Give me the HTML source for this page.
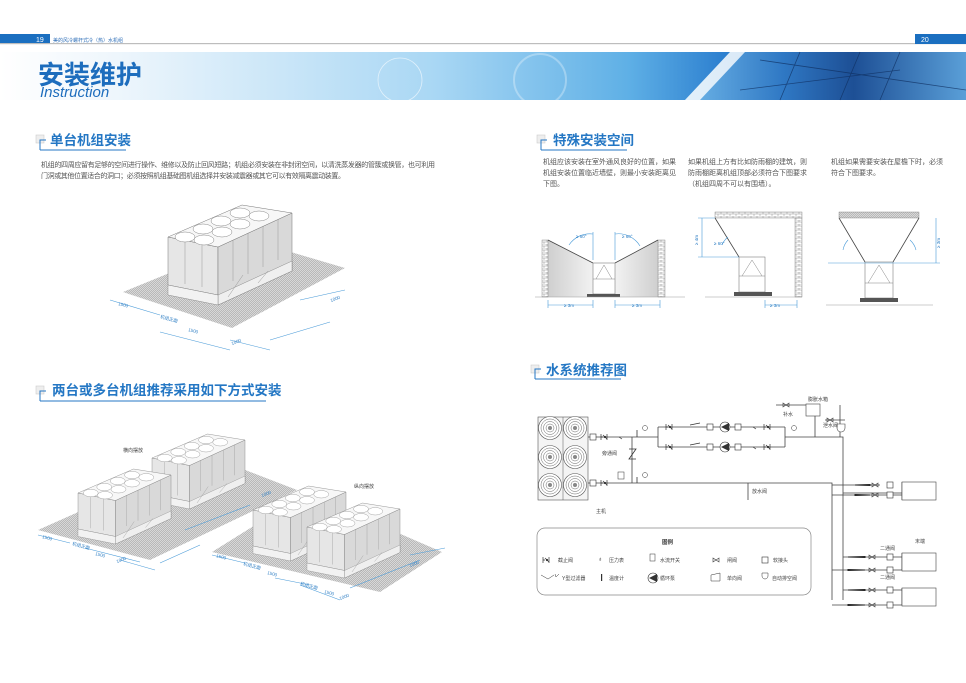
<!DOCTYPE html>
<html><head><meta charset="utf-8"><style>
html,body{margin:0;padding:0;background:#fff}
svg{display:block;font-family:"Liberation Sans","Noto Sans CJK SC",sans-serif}
.t{font-size:7px;fill:#555}
.s{font-size:5px;fill:#444}
.h{font-size:13.5px;fill:#2477c4;font-weight:bold}
.ln{stroke:#444;stroke-width:.8;fill:none}
.dm{stroke:#4a9bd8;stroke-width:.6;fill:none}
.dt{font-size:4.5px;fill:#2f7fc4}
</style></head><body>
<svg width="966" height="683" viewBox="0 0 966 683">
<defs>
<pattern id="hat" width="2" height="2" patternUnits="userSpaceOnUse"><rect width="2" height="2" fill="#dcdcdc"/><path d="M0 2L2 0" stroke="#a5a5a5" stroke-width=".6"/></pattern>
<pattern id="brk" width="6" height="4" patternUnits="userSpaceOnUse"><rect width="6" height="4" fill="#fff"/><path d="M0 0H6M0 2H6M1 0V2M4 2V4" stroke="#777" stroke-width=".4"/></pattern>
<linearGradient id="ban" x1="0" x2="1"><stop offset="0" stop-color="#ffffff"/><stop offset=".12" stop-color="#eef6fc"/><stop offset=".45" stop-color="#a9d7f4"/><stop offset=".65" stop-color="#5fb0e6"/><stop offset=".75" stop-color="#2c7fcf"/><stop offset="1" stop-color="#1f5ea8"/></linearGradient>
<linearGradient id="bld" x1="0" x2="1"><stop offset="0" stop-color="#6fb6e8"/><stop offset=".35" stop-color="#2f78c4"/><stop offset=".6" stop-color="#1d4f95"/><stop offset="1" stop-color="#5a9fd8"/></linearGradient>
<linearGradient id="pnl" x1="0" x2="1"><stop offset="0" stop-color="#cfcfcf"/><stop offset="1" stop-color="#f2f2f2"/></linearGradient>
<linearGradient id="pnr" x1="1" x2="0"><stop offset="0" stop-color="#cfcfcf"/><stop offset="1" stop-color="#f2f2f2"/></linearGradient>
<g id="unit">
 <polygon points="0,0 50,10 50,58 0,48" fill="#e6e6e6" stroke="#777" stroke-width=".5"/>
 <polygon points="50,10 124,-24 124,34 50,68" fill="#d9d9d9" stroke="#777" stroke-width=".5"/>
 <polygon points="50,58 124,24 124,34 50,68" fill="#efefef" stroke="#777" stroke-width=".4"/>
 <polygon points="0,48 50,58 50,68 0,58" fill="#f2f2f2" stroke="#777" stroke-width=".4"/>
 <path d="M65 3V44M80 -4V37M95 -11V30M110 -18V23M17 3V47M34 7V50M60 60L75 38M90 46L100 34" stroke="#999" stroke-width=".5"/>
 <polygon points="0,0 50,10 124,-24 74,-32" fill="#f7f7f7" stroke="#777" stroke-width=".5"/>
 <g fill="#fff" stroke="#888" stroke-width=".5">
  <ellipse cx="17" cy="0" rx="10" ry="5"/><ellipse cx="36" cy="3" rx="10" ry="5"/>
  <ellipse cx="35" cy="-8" rx="10" ry="5"/><ellipse cx="54" cy="-5" rx="10" ry="5"/>
  <ellipse cx="53" cy="-16" rx="10" ry="5"/><ellipse cx="72" cy="-13" rx="10" ry="5"/>
  <ellipse cx="72" cy="-24" rx="10" ry="5"/><ellipse cx="91" cy="-21" rx="10" ry="5"/>
 </g>
</g>
<g id="fan"><circle r="11.5" fill="#fff" stroke="#555" stroke-width=".6"/><circle r="9" fill="none" stroke="#666" stroke-width=".5"/><circle r="6.5" fill="none" stroke="#666" stroke-width=".5"/><circle r="4" fill="none" stroke="#666" stroke-width=".5"/><circle r="2" fill="#888"/></g>
<g id="vlv"><path d="M-4 -3V3M-4 0L-2 0M-2 -2L2 2M2 -3V3" stroke="#333" stroke-width=".7" fill="none"/><circle r="1.1" fill="#333"/></g>
<g id="gate"><path d="M-3 -2L3 2V-2L-3 2Z" fill="none" stroke="#333" stroke-width=".6"/></g>
<g id="box"><rect x="-3" y="-3" width="6" height="6" fill="#fff" stroke="#333" stroke-width=".6"/></g>
<g id="pump"><circle r="5" fill="#fff" stroke="#333" stroke-width=".6"/><path d="M-4 0L4 -4V4Z" fill="#333"/></g>
</defs>

<!-- header -->
<rect x="0" y="34" width="50" height="10" fill="#1b6fc0"/>
<text x="36" y="42" font-size="7" fill="#fff">19</text>
<text x="53" y="42" font-size="5" fill="#2f6fb8">美的风冷螺杆式冷（热）水机组</text>
<rect x="0" y="43" width="966" height="1.2" fill="#bdbdbd"/>
<rect x="915" y="34" width="51" height="10" fill="#1b6fc0"/>
<text x="921" y="42" font-size="7" fill="#fff">20</text>
<rect x="0" y="52" width="966" height="48" fill="url(#ban)"/>
<polygon points="730,52 966,52 966,100 685,100" fill="url(#bld)"/>
<polygon points="730,52 745,52 700,100 685,100" fill="#fff" opacity=".8"/>
<path d="M760 60L966 90M800 52L780 100M860 52L840 100M900 52L880 100M740 90L900 70" stroke="#0f2f60" stroke-width=".8" opacity=".7"/>
<circle cx="400" cy="80" r="22" fill="none" stroke="#fff" stroke-width=".8" opacity=".6"/>
<circle cx="540" cy="80" r="26" fill="none" stroke="#fff" stroke-width="2" opacity=".3"/>
<text x="38" y="84" font-size="26" font-weight="bold" fill="#1d6dbd">安装维护</text>
<text x="40" y="97" font-size="15" font-style="italic" fill="#1d6dbd">Instruction</text>

<!-- headings -->
<g>
<rect x="36" y="135" width="8" height="8" fill="#eee" stroke="#ccc" stroke-width=".6"/><path d="M40 150V140H46" stroke="#2477c4" fill="none"/>
<path d="M40 150H126" stroke="#2477c4"/>
<text class="h" x="50" y="145">单台机组安装</text>
<rect x="537" y="135" width="8" height="8" fill="#eee" stroke="#ccc" stroke-width=".6"/><path d="M541 150V140H547" stroke="#2477c4" fill="none"/>
<path d="M541 150H627" stroke="#2477c4"/>
<text class="h" x="553" y="145">特殊安装空间</text>
<rect x="36" y="386" width="8" height="8" fill="#eee" stroke="#ccc" stroke-width=".6"/><path d="M40 401V391H46" stroke="#2477c4" fill="none"/>
<path d="M40 401H266" stroke="#2477c4"/>
<text class="h" x="52" y="395">两台或多台机组推荐采用如下方式安装</text>
<rect x="531" y="365" width="8" height="8" fill="#eee" stroke="#ccc" stroke-width=".6"/><path d="M535 379V369H541" stroke="#2477c4" fill="none"/>
<path d="M535 379H621" stroke="#2477c4"/>
<text class="h" x="546" y="375">水系统推荐图</text>
</g>

<text class="t" x="41" y="167" textLength="394">机组的四周应留有足够的空间进行操作、维修以及防止回风短路；机组必须安装在非封闭空间，以清洗蒸发器的管簇或换管，也可利用</text>
<text class="t" x="41" y="178" textLength="304">门洞或其他位置适合的洞口；必须按照机组基础图机组选择并安装减震器或其它可以有效隔离震动装置。</text>

<text class="t" x="543" y="164">机组应该安装在室外通风良好的位置，如果</text>
<text class="t" x="543" y="175">机组安装位置临近墙壁，则最小安装距离见</text>
<text class="t" x="543" y="186">下图。</text>
<text class="t" x="688" y="164">如果机组上方有比如防雨棚的建筑，则</text>
<text class="t" x="688" y="175">防雨棚距离机组顶部必须符合下图要求</text>
<text class="t" x="688" y="186">（机组四周不可以有围墙）。</text>
<text class="t" x="831" y="164">机组如果需要安装在屋檐下时，必须</text>
<text class="t" x="831" y="175">符合下图要求。</text>

<!-- single unit -->
<polygon points="123,292 232,328 345,268 250,240" fill="url(#hat)"/>
<use href="#unit" x="168" y="237"/>
<g class="dm"><path d="M110 300L160 315M160 332L230 350M230 340L270 350M270 340L330 322M300 300L345 290"/></g>
<text class="dt" x="118" y="305" transform="rotate(15 118 305)">1500</text>
<text class="dt" x="160" y="318" transform="rotate(15 160 318)">机组正面</text>
<text class="dt" x="188" y="331" transform="rotate(15 188 331)">1500</text>
<text class="dt" x="232" y="345" transform="rotate(-20 232 345)">1000</text>
<text class="dt" x="331" y="302" transform="rotate(-20 331 302)">1000</text>

<!-- two units -->
<text class="s" x="123" y="452">横向摆放</text>
<text class="s" x="354" y="488">纵向摆放</text>
<polygon points="38,530 150,560 297,490 240,468 150,480" fill="url(#hat)"/>
<polygon points="212,552 380,592 442,552 350,512 260,522" fill="url(#hat)"/>
<use href="#unit" transform="translate(152,458) scale(.75)"/>
<use href="#unit" transform="translate(78,493) scale(.75)"/>
<use href="#unit" transform="translate(253,510) scale(.75)"/>
<use href="#unit" transform="translate(307,527) scale(.75)"/>
<g class="dm"><path d="M38 535L70 543M85 548L140 562M120 560L155 570M160 563L200 545M185 530L250 505M212 555L245 563M275 578L310 585M300 585L340 600M350 588L420 560M410 555L445 548"/></g>
<text class="dt" x="42" y="538" transform="rotate(15 42 538)">1500</text>
<text class="dt" x="72" y="545" transform="rotate(15 72 545)">机组正面</text>
<text class="dt" x="95" y="555" transform="rotate(15 95 555)">1500</text>
<text class="dt" x="117" y="563" transform="rotate(-20 117 563)">1000</text>
<text class="dt" x="262" y="497" transform="rotate(-20 262 497)">1000</text>
<text class="dt" x="216" y="557" transform="rotate(15 216 557)">1500</text>
<text class="dt" x="243" y="565" transform="rotate(15 243 565)">机组正面</text>
<text class="dt" x="267" y="574" transform="rotate(15 267 574)">1500</text>
<text class="dt" x="300" y="585" transform="rotate(15 300 585)">机组正面</text>
<text class="dt" x="324" y="593" transform="rotate(15 324 593)">1500</text>
<text class="dt" x="340" y="600" transform="rotate(-20 340 600)">1000</text>
<text class="dt" x="410" y="567" transform="rotate(-20 410 567)">1000</text>

<!-- special diagram 1 -->
<polygon points="548,240 593,263 593,297 548,297" fill="url(#pnl)"/>
<polygon points="658,240 615,263 615,297 658,297" fill="url(#pnr)"/>
<rect x="542" y="240" width="6" height="57" fill="url(#brk)" stroke="#777" stroke-width=".4"/>
<rect x="658" y="240" width="7" height="57" fill="url(#brk)" stroke="#777" stroke-width=".4"/>
<path d="M548 240L593 263M658 240L615 263" class="ln" stroke-width=".5"/>
<rect x="593" y="263" width="22" height="31" fill="#fff" stroke="#666" stroke-width=".5"/>
<path d="M593 279H615M596 279L604 265L612 279" stroke="#666" stroke-width=".4" fill="none"/>
<rect x="587" y="294" width="33" height="3" fill="#555"/>
<path d="M535 297H685" stroke="#999" stroke-width=".6"/>
<g class="dm"><path d="M548 300V308M593 300V308M548 305H593M615 300V308M660 300V308M615 305H660M593 260V232M615 260V232M569 245A25 25 0 0 1 593 234M615 234A25 25 0 0 1 640 246"/></g>
<text class="dt" x="564" y="307">≥ 3m</text><text class="dt" x="632" y="307">≥ 3m</text>
<text class="dt" x="576" y="238">≥ 60°</text><text class="dt" x="622" y="238">≥ 60°</text>
<!-- special diagram 2 -->
<rect x="715" y="212" width="87" height="6" fill="url(#brk)" stroke="#777" stroke-width=".4"/>
<rect x="795" y="218" width="7" height="79" fill="url(#brk)" stroke="#777" stroke-width=".4"/>
<path d="M715 218L739 257" class="ln" stroke-width=".5"/>
<rect x="739" y="257" width="26" height="35" fill="#fff" stroke="#666" stroke-width=".5"/>
<path d="M739 276H765M742 276L752 260L762 276" stroke="#666" stroke-width=".4" fill="none"/>
<rect x="734" y="292" width="38" height="4" fill="#555"/>
<path d="M705 297H802" stroke="#999" stroke-width=".6"/>
<g class="dm"><path d="M702 218V257M698 218H715M698 257H739M722 245A20 20 0 0 1 728 237M765 300V308M797 300V308M765 305H797"/></g>
<text class="dt" x="698" y="245" transform="rotate(-90 698 245)">≥ 4m</text>
<text class="dt" x="770" y="307">≥ 3m</text><text class="dt" x="714" y="245">≥ 60°</text>
<!-- special diagram 3 -->
<rect x="839" y="212" width="80" height="6" fill="url(#hat)" stroke="#777" stroke-width=".4"/>
<path d="M839 218L865 262M919 218L893 262" class="ln" stroke-width=".5"/>
<rect x="865" y="262" width="28" height="36" fill="#fff" stroke="#666" stroke-width=".5"/>
<path d="M865 283H893M868 283L879 265L890 283" stroke="#666" stroke-width=".4" fill="none"/>
<rect x="860" y="298" width="38" height="4" fill="#555"/>
<path d="M826 305H933" stroke="#999" stroke-width=".6"/>
<g class="dm"><path d="M828 263H940M936 218V263M843 250A20 20 0 0 1 848 240M910 240A20 20 0 0 1 916 250"/></g>
<text class="dt" x="940" y="248" transform="rotate(-90 940 248)">≥ 3m</text>

<!-- water system -->
<rect x="538" y="417" width="50" height="83" fill="#f4f4f4" stroke="#555" stroke-width=".6"/>
<path d="M563 417V500" stroke="#555" stroke-width=".5"/>
<use href="#fan" x="550" y="428"/><use href="#fan" x="575" y="428"/>
<use href="#fan" x="550" y="457"/><use href="#fan" x="575" y="457"/>
<use href="#fan" x="550" y="485"/><use href="#fan" x="575" y="485"/>
<g class="ln">
<path d="M588 437H658M658 427V447M658 427H785M658 447H785M785 427V447M785 437H843V600M588 483H832V600M632 437V483"/>
<path d="M776 405H815M840 405V437M825 420H845M815 410V437"/>
<path d="M832 485H855M855 485H880M843 493H902M832 495H902M843 557H902M832 570H902M843 590H902M832 605H902M902 482V500M902 553V570M902 588V605"/>
<path d="M748 483V500"/>
</g>
<path d="M855 485L870 484.5V485.5Z" fill="#222" stroke="#222" stroke-width="1"/>
<path d="M870 495L855 494.5V495.5Z" fill="#222" stroke="#222" stroke-width="1"/>
<path d="M848 557L865 556.5V557.5ZM865 570L848 569.5V570.5ZM848 590L865 589.5V590.5ZM865 605L848 604.5V605.5Z" fill="#222" stroke="#222" stroke-width="1"/>
<g fill="#fff" stroke="#444" stroke-width=".6">
<rect x="902" y="482" width="34" height="18"/><rect x="902" y="553" width="34" height="18"/><rect x="902" y="588" width="34" height="18"/>
<rect x="806" y="404" width="14" height="12"/>
</g>
<path d="M837 428a4 4 0 0 0 8 0V424H837Z" fill="#fff" stroke="#444" stroke-width=".6"/>
<use href="#box" x="593" y="437"/><use href="#vlv" x="605" y="437"/>
<use href="#box" x="593" y="483"/><use href="#vlv" x="605" y="483"/>
<use href="#vlv" x="670" y="427"/><use href="#vlv" x="670" y="447"/>
<use href="#box" x="710" y="427"/><use href="#box" x="710" y="447"/>
<use href="#pump" x="725" y="427"/><use href="#pump" x="725" y="447"/>
<use href="#box" x="738" y="427"/><use href="#box" x="738" y="447"/>
<use href="#vlv" x="768" y="427"/><use href="#vlv" x="768" y="447"/>
<use href="#gate" x="786" y="405"/><use href="#gate" x="830" y="420"/>
<use href="#gate" x="875" y="485"/><use href="#gate" x="875" y="495"/>
<use href="#gate" x="872" y="557"/><use href="#gate" x="872" y="570"/><use href="#gate" x="872" y="590"/><use href="#gate" x="872" y="605"/>
<use href="#box" x="890" y="485"/><use href="#box" x="890" y="495"/><use href="#box" x="890" y="557"/><use href="#box" x="890" y="570"/><use href="#box" x="890" y="590"/><use href="#box" x="890" y="605"/>
<path d="M690 425L700 423M690 445L700 443M619 437l3 2M753 427l3 2M753 447l3 2" stroke="#333" stroke-width=".7"/>
<circle cx="645" cy="428" r="2.5" fill="#fff" stroke="#333" stroke-width=".5"/><circle cx="645" cy="475" r="2.5" fill="#fff" stroke="#333" stroke-width=".5"/><circle cx="794" cy="428" r="2.5" fill="#fff" stroke="#333" stroke-width=".5"/>
<path d="M637 430V437M637 477V483M629 449H636L629 459H636" stroke="#333" stroke-width=".8" fill="none"/>
<rect x="618" y="472" width="6" height="7" fill="#fff" stroke="#333" stroke-width=".5"/>
<text class="s" x="808" y="401">膨胀水箱</text><text class="s" x="783" y="416">补水</text>
<text class="s" x="823" y="427">泄水阀</text><text class="s" x="602" y="455">旁通阀</text>
<text class="s" x="596" y="513">主机</text><text class="s" x="752" y="493">放水阀</text>
<text class="s" x="915" y="543">末端</text><text class="s" x="880" y="550">二通阀</text><text class="s" x="880" y="579">二通阀</text>

<!-- legend -->
<rect x="537" y="528" width="274" height="67" rx="8" fill="#fff" stroke="#888" stroke-width=".7"/>
<text x="662" y="544" font-size="5.5" fill="#333" font-weight="bold">图例</text>
<use href="#vlv" x="547" y="560"/><text class="s" x="558" y="562">截止阀</text>
<text x="598" y="561" font-size="6">♁</text><text class="s" x="609" y="562">压力表</text>
<rect x="650" y="554" width="5" height="7" fill="none" stroke="#333" stroke-width=".5"/><text class="s" x="660" y="562">水流开关</text>
<use href="#gate" x="716" y="560"/><text class="s" x="727" y="562">闸阀</text>
<use href="#box" x="765" y="560"/><text class="s" x="773" y="562">软接头</text>
<path d="M541 575L548 579L554 575M556 577l3 -3M556 577l-1 -3" stroke="#333" stroke-width=".5" fill="none"/><text class="s" x="562" y="580">Y型过滤器</text>
<rect x="601" y="574" width="1.2" height="7" fill="#333"/><text class="s" x="609" y="580">温度计</text>
<use href="#pump" x="653" y="578"/><text class="s" x="660" y="580">循环泵</text>
<path d="M711 581V575L720 573V581Z" fill="none" stroke="#333" stroke-width=".5"/><text class="s" x="727" y="580">单向阀</text>
<path d="M762 576a3 3 0 0 0 6 0V573H762Z" fill="none" stroke="#333" stroke-width=".5"/><text class="s" x="772" y="580">自动排空阀</text>
</svg>
</body></html>
